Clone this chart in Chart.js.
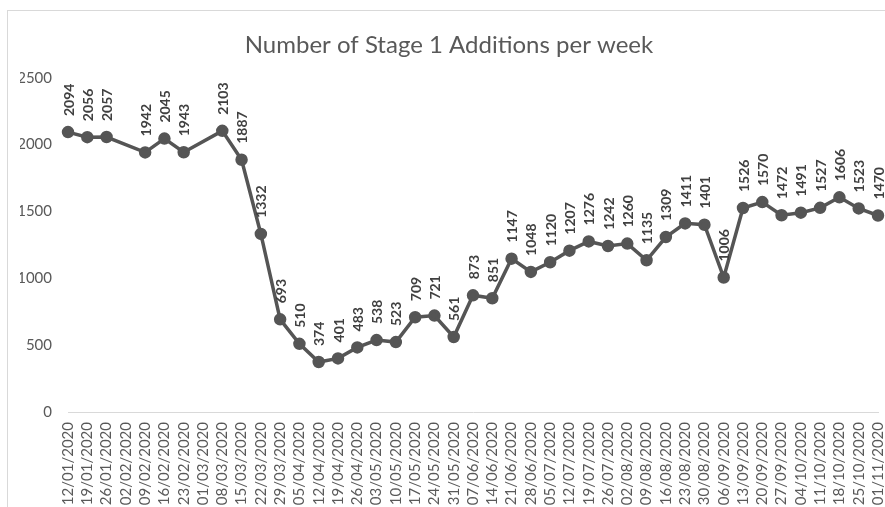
<!DOCTYPE html>
<html>
<head>
<meta charset="utf-8">
<script src="https://cdn.jsdelivr.net/npm/chart.js@4/dist/chart.umd.min.js"></script>
<style>
  html, body { margin: 0; padding: 0; background: #fff; overflow: hidden; }
  #box { position: absolute; left: 7px; top: 10px; width: 885px; height: 540px; border: 1px solid #d9d9d9; box-sizing: border-box; }
  #wrap { position: absolute; left: 0; top: 0; width: 885px; height: 540px; }
</style>
</head>
<body>
<div id="box"><div id="wrap"><canvas id="stageChart"></canvas></div></div>
<script>
const weeks = [
  '12/01/2020', '19/01/2020', '26/01/2020', '02/02/2020', '09/02/2020', '16/02/2020',
  '23/02/2020', '01/03/2020', '08/03/2020', '15/03/2020', '22/03/2020', '29/03/2020',
  '05/04/2020', '12/04/2020', '19/04/2020', '26/04/2020', '03/05/2020', '10/05/2020',
  '17/05/2020', '24/05/2020', '31/05/2020', '07/06/2020', '14/06/2020', '21/06/2020',
  '28/06/2020', '05/07/2020', '12/07/2020', '19/07/2020', '26/07/2020', '02/08/2020',
  '09/08/2020', '16/08/2020', '23/08/2020', '30/08/2020', '06/09/2020', '13/09/2020',
  '20/09/2020', '27/09/2020', '04/10/2020', '11/10/2020', '18/10/2020', '25/10/2020',
  '01/11/2020'
];
const additions = [
  2094, 2056, 2057, null, 1942, 2045,
  1943, null, 2103, 1887, 1332, 693,
  510, 374, 401, 483, 538, 523,
  709, 721, 561, 873, 851, 1147,
  1048, 1120, 1207, 1276, 1242, 1260,
  1135, 1309, 1411, 1401, 1006, 1526,
  1570, 1472, 1491, 1527, 1606, 1523,
  1470
];
const yTicks = [0, 500, 1000, 1500, 2000, 2500];

// vertical value labels above each point
const valueLabels = {
  id: 'valueLabels',
  afterDatasetsDraw(chart) {
    const ctx = chart.ctx;
    const meta = chart.getDatasetMeta(0);
    ctx.save();
    ctx.font = 'bold 14px Lato, "Open Sans", sans-serif';
    ctx.fillStyle = '#404040';
    ctx.textAlign = 'left';
    ctx.textBaseline = 'middle';
    meta.data.forEach((pt, i) => {
      const v = additions[i];
      if (v === null) return;
      ctx.save();
      ctx.translate(pt.x + 1, pt.y - 16);
      ctx.rotate(-Math.PI / 2);
      ctx.fillText(String(v), 0, 0);
      ctx.restore();
    });
    ctx.restore();
  }
};

const ctx = document.getElementById('stageChart').getContext('2d');
const chart = new Chart(ctx, {
  type: 'line',
  data: {
    labels: weeks,
    datasets: [{
      label: 'Stage 1 Additions',
      data: additions,
      borderColor: '#555555',
      backgroundColor: '#555555',
      borderWidth: 3.5,
      pointRadius: 4.5,
      pointBackgroundColor: '#555555',
      pointBorderColor: '#555555',
      spanGaps: true,
      tension: 0
    }]
  },
  options: {
    responsive: true,
    maintainAspectRatio: false,
    animation: false,
    layout: { padding: { left: 12, right: 15, top: 0, bottom: 0 } },
    plugins: {
      legend: { display: false },
      tooltip: { enabled: false },
      title: {
        display: true,
        text: 'Number of Stage 1 Additions per week',
        color: '#595959',
        font: { family: 'Lato, "Open Sans", sans-serif', size: 24, weight: 'normal' },
        padding: { top: 20, bottom: 18 }
      }
    },
    scales: {
      x: {
        offset: false,
        afterFit: axis => {
          axis.height = 139;
          axis.paddingLeft = 0;
          axis.paddingRight = 0;
        },
        grid: { display: false, drawTicks: false },
        border: { display: true, color: '#d9d9d9', width: 1 },
        ticks: {
          autoSkip: false,
          maxRotation: 90,
          minRotation: 90,
          padding: 10,
          color: '#595959',
          font: { family: 'Lato, "Open Sans", sans-serif', size: 15 }
        }
      },
      y: {
        min: 0,
        max: 2500,
        afterBuildTicks: axis => { axis.ticks = yTicks.map(v => ({ value: v })); },
        afterFit: axis => { axis.width = 48; },
        grid: { display: false, drawTicks: false },
        border: { display: false },
        ticks: {
          padding: 16,
          color: '#595959',
          callback: v => String(v),
          font: { family: 'Lato, "Open Sans", sans-serif', size: 15 }
        }
      }
    }
  },
  plugins: [valueLabels]
});
</script>
</body>
</html>
